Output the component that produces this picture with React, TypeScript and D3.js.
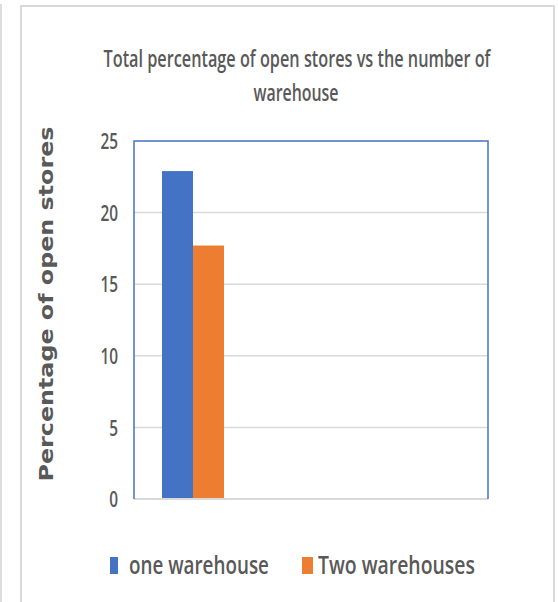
import React, { useLayoutEffect, useRef, useState } from "react";
import * as d3 from "d3";

const categories = ["1", "2", "3"];
const seriesNames = ["one warehouse", "Two warehouses"];
const oneWarehouse: (number | null)[] = [22.9, null, null];
const twoWarehouses: (number | null)[] = [17.7, null, null];
const yTicks = [0, 5, 10, 15, 20, 25];
const titleLines = ["Total percentage of open stores vs the number of", "warehouse"];
const yAxisTitle = "Percentage of open stores";
const colors = ["#4472C4", "#ED7D31"];

const W = 558;
const H = 602;
const plot = { left: 134, right: 488, top: 141, bottom: 499 };
const textColor = "#595959";
const gridColor = "#D9D9D9";

type FitProps = {
  x: number;
  y: number;
  width: number;
  anchor: "start" | "middle" | "end";
  fontSize: number;
  fontWeight?: number | string;
  fontFamily?: string;
  rotate?: number;
  children: string;
};

function FitText({ x, y, width, anchor, fontSize, fontWeight, fontFamily, rotate, children }: FitProps) {
  const ref = useRef<SVGTextElement>(null);
  const [k, setK] = useState(0.7);
  useLayoutEffect(() => {
    if (ref.current) {
      const n = ref.current.getComputedTextLength();
      if (n > 0) setK(width / n);
    }
  }, [width, children, fontSize]);
  return (
    <g transform={`translate(${x},${y})${rotate ? ` rotate(${rotate})` : ""} scale(${k},1)`}>
      <text
        ref={ref}
        x={0}
        y={0}
        textAnchor={anchor}
        fontSize={fontSize}
        fontWeight={fontWeight}
        fontFamily={fontFamily}
        fill={textColor}
      >
        {children}
      </text>
    </g>
  );
}

export default function App() {
  const y = d3.scaleLinear().domain([0, 25]).range([plot.bottom, plot.top]);
  const x0 = d3.scaleBand<string>().domain(categories).range([plot.left, plot.right]).paddingInner(0).paddingOuter(0);
  const x1 = d3
    .scaleBand<string>()
    .domain(seriesNames)
    .range([0, x0.bandwidth()])
    .paddingInner(0)
    .paddingOuter(0.903);
  const seriesData = [oneWarehouse, twoWarehouses];

  const legendItems = [
    { name: seriesNames[0], sx: 110, sw: 8, tx: 129, tl: 140 },
    { name: seriesNames[1], sx: 302, sw: 11, tx: 318, tl: 157 },
  ];

  return (
    <svg
      width={W}
      height={H}
      style={{ position: "absolute", left: 0, top: 0, background: "#fff" }}
      fontFamily="'Open Sans', sans-serif"
    >
      <rect x={0} y={0} width={W} height={H} fill="#fff" />
      {/* outer page line */}
      <line x1={1} x2={1} y1={4} y2={H} stroke="#D0D0D0" strokeWidth={1.5} />
      {/* chart frame */}
      <path d={`M21,${H + 5} V6 H554 V${H + 5}`} fill="none" stroke="#D9D9D9" strokeWidth={2} />

      {/* title */}
      <FitText x={297} y={67} width={387} anchor="middle" fontSize={24} fontWeight={600}>
        {titleLines[0]}
      </FitText>
      <FitText x={296} y={101} width={85} anchor="middle" fontSize={24} fontWeight={600}>
        {titleLines[1]}
      </FitText>

      {/* gridlines */}
      {yTicks
        .filter((t) => t !== 0 && t !== 25)
        .map((t) => (
          <line key={t} x1={plot.left} x2={plot.right} y1={y(t)} y2={y(t)} stroke={gridColor} strokeWidth={1.5} />
        ))}

      {/* bars */}
      {categories.map((c, ci) =>
        seriesData.map((s, si) => {
          const v = s[ci];
          if (v == null) return null;
          const bx = (x0(c) as number) + (x1(seriesNames[si]) as number);
          return (
            <rect
              key={c + si}
              x={bx}
              y={y(v)}
              width={x1.bandwidth()}
              height={y(0) - y(v)}
              fill={colors[si]}
            />
          );
        })
      )}

      {/* zero axis line */}
      <line x1={plot.left} x2={plot.right} y1={y(0)} y2={y(0)} stroke={gridColor} strokeWidth={2} />
      {/* plot border */}
      <path
        d={`M${plot.left},${y(0)} V${plot.top} H${plot.right} V${y(0)}`}
        fill="none"
        stroke="#4472C4"
        strokeWidth={1.5}
      />

      {/* tick labels */}
      {yTicks.map((t) => (
        <text
          key={t}
          transform={`translate(118,${y(t)}) scale(0.7,1)`}
          textAnchor="end"
          dominantBaseline="central"
          fontSize={22}
          fontWeight={600}
          fill={textColor}
        >
          {t}
        </text>
      ))}

      {/* y axis title */}
      <text
        transform={`translate(53,304) rotate(-90)`}
        textAnchor="middle"
        fontFamily="'DejaVu Sans', sans-serif"
        fontWeight="bold"
        fontSize={20}
        fill={textColor}
        textLength={355}
        lengthAdjust="spacingAndGlyphs"
      >
        {yAxisTitle}
      </text>

      {/* legend */}
      {legendItems.map((l, i) => (
        <g key={l.name}>
          <rect x={l.sx} y={557} width={l.sw} height={17} fill={colors[i]} />
          <FitText x={l.tx} y={574} width={l.tl} anchor="start" fontSize={26} fontWeight={600}>
            {l.name}
          </FitText>
        </g>
      ))}
    </svg>
  );
}
